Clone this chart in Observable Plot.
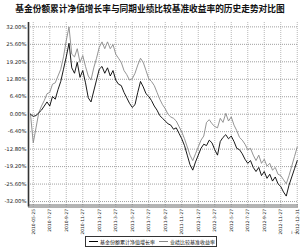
<!DOCTYPE html>
<html><head><meta charset="utf-8">
<script src="https://cdn.jsdelivr.net/npm/d3@7"></script>
<script src="https://cdn.jsdelivr.net/npm/@observablehq/plot@0.6"></script>
<style>
body{margin:0;background:#fff;width:300px;height:249px;overflow:hidden;position:relative;font-family:"Noto Sans CJK SC","DejaVu Sans",sans-serif;}
#title{position:absolute;left:0;top:1px;width:300px;text-align:center;font-weight:bold;font-size:8.7px;line-height:16px;color:#111;white-space:nowrap;}
#chart{position:absolute;left:0;top:18px;}
#legend{position:absolute;left:85px;top:236px;width:130px;height:9px;border:1px solid #333;display:flex;align-items:center;font-size:5px;color:#111;white-space:nowrap;background:#fff;}
#legend .sw{display:inline-block;width:9px;height:0;border-top:1px solid;margin:0 2px 0 3px;}
</style></head>
<body>
<div id="title">基金份额累计净值增长率与同期业绩比较基准收益率的历史走势对比图</div>
<div id="chart"></div>
<div id="legend"><span class="sw" style="border-color:#000"></span>基金份额累计净值增长率<span class="sw" style="border-color:#888;margin-left:4px"></span>业绩比较基准收益率</div>
<script>
const fund = [0.0,-0.8,-0.5,0.5,1.5,3.0,4.5,3.0,6.5,5.5,9.0,12.0,16.5,21.0,26.0,17.0,15.0,19.0,13.5,16.0,11.5,6.0,4.5,8.5,12.5,16.5,17.5,15.0,17.0,14.0,16.0,12.5,11.0,10.5,8.0,6.0,4.0,2.5,3.5,8.0,12.0,10.0,7.5,6.5,5.0,3.0,1.5,-0.5,-1.5,-2.5,-3.5,-4.0,-5.5,-5.0,-7.0,-9.0,-11.5,-15.0,-18.5,-20.5,-17.5,-15.0,-12.5,-11.0,-11.5,-9.5,-10.5,-13.0,-15.0,-10.0,-8.5,-7.5,-9.0,-8.0,-10.0,-12.5,-13.0,-14.5,-16.5,-18.0,-17.0,-19.5,-21.0,-19.5,-22.5,-21.0,-23.5,-22.0,-24.5,-23.0,-25.5,-26.5,-28.5,-30.0,-26.0,-23.0,-20.0,-17.0];
const bench = [0.0,-10.5,-5.0,0.5,3.0,5.0,7.5,8.0,11.0,11.5,14.0,16.5,21.0,27.0,32.0,22.0,21.0,24.0,19.0,21.5,17.5,14.0,12.5,17.0,20.5,24.5,26.5,24.0,26.5,24.0,25.5,22.0,20.5,19.0,16.0,14.5,12.5,13.0,15.0,18.0,20.5,19.0,16.0,13.0,12.0,10.5,8.0,5.5,3.5,2.0,0.0,-1.0,-1.5,-2.5,-4.5,-6.5,-9.0,-12.0,-15.0,-17.0,-14.5,-12.0,-9.5,-8.0,-3.0,-2.0,-3.5,-4.5,-5.0,-1.5,-3.0,0.3,-2.5,-1.0,-4.0,-6.0,-8.5,-9.5,-11.0,-13.0,-12.5,-15.0,-17.0,-15.0,-18.0,-16.5,-19.0,-18.0,-20.5,-19.5,-22.0,-22.5,-24.0,-25.5,-22.5,-19.0,-15.5,-12.0];
const dateLabels = ["2010-05-25","2010-7-27","2010-9-27","2010-11-27","2011-1-27","2011-3-27","2011-5-27","2011-7-27","2011-9-27","2011-11-27","2012-1-27","2012-3-27","2012-5-27","2012-7-27","2012-9-27","2012-11-27","2012-12-31"];
const yTicks = [32,25.6,19.2,12.8,6.4,0,-6.4,-12.8,-19.2,-25.6,-32];

const rows = fund.map((v,i)=>({i, fund:v, bench:bench[i]}));
const labelIdx = dateLabels.map((d,k)=>1+6*k);
const xmin = -2/2.75, xmax = 97 + 1.25/2.75;

const chart = Plot.plot({
  width:300, height:218,
  marginLeft:28, marginRight:2, marginTop:4, marginBottom:29.5,
  style:{fontFamily:"DejaVu Sans, sans-serif", color:"#222", background:"transparent"},
  x:{type:"linear", domain:[xmin,xmax]},
  y:{domain:[-34,33.6]},
  marks:[
    Plot.ruleY(yTicks,{stroke:"#777",strokeWidth:0.7,strokeDasharray:"1,1"}),
    Plot.ruleX(labelIdx,{stroke:"#999",strokeWidth:0.7,strokeDasharray:"1,1"}),
    Plot.line(rows,{x:"i",y:"bench",stroke:"#888",strokeWidth:0.9}),
    Plot.line(rows,{x:"i",y:"fund",stroke:"#000",strokeWidth:0.9}),
    Plot.ruleX([xmin],{stroke:"#333",strokeWidth:1.6}),
    Plot.ruleY([-34],{stroke:"#444",strokeWidth:0.8}),
    Plot.ruleY([-34],{stroke:"#444",strokeWidth:0.8,dy:-2}),
    Plot.axisY(yTicks,{tickSize:0,tickPadding:2,fontSize:5.3,tickFormat:d=>d.toFixed(2)+"%"}),
    Plot.axisX(labelIdx,{tickSize:0,tickPadding:2,fontSize:4.4,tickRotate:-90,tickFormat:(d,k)=>dateLabels[k]})
  ]
});
document.getElementById("chart").appendChild(chart);
</script>
</body></html>
